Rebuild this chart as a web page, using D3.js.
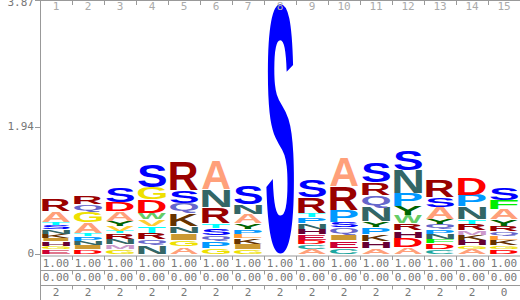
<!DOCTYPE html>
<html>
<head>
<meta charset="utf-8">
<script src="https://cdnjs.cloudflare.com/ajax/libs/d3/7.8.5/d3.min.js"></script>
<style>
  body { margin: 0; background: #fff; }
  svg { display: block; }
</style>
</head>
<body>
<svg id="logo"></svg>
<script>
// positions along the alignment
var positions = d3.range(1, 16);

// letter stacks per position, bottom -> top, [letter, bits]
var stacks = [
  [["E",.065],["G",.05],["H",.075],["I",.05],["K",.06],["N",.075],["S",.065],["T",.04],["A",.17],["R",.19]],
  [["D",.065],["I",.062],["N",.062],["P",.075],["T",.055],["A",.16],["G",.16],["Q",.115],["R",.125]],
  [["G",.072],["M",.076],["N",.076],["R",.087],["T",.04],["V",.076],["Y",.076],["A",.142],["D",.137],["S",.22]],
  [["N",.135],["Q",.087],["R",.098],["T",.098],["V",.11],["W",.098],["D",.2],["G",.19],["S",.34]],
  [["A",.109],["G",.093],["I",.109],["N",.109],["K",.19],["Q",.163],["S",.19],["R",.435]],
  [["G",.084],["P",.112],["Q",.084],["S",.112],["T",.075],["R",.25],["N",.27],["A",.44]],
  [["G",.076],["I",.076],["K",.091],["L",.061],["P",.076],["Y",.087],["A",.142],["N",.142],["S",.294]],
  [["S",3.82]],
  [["A",.076],["C",.066],["D",.072],["E",.081],["H",.087],["N",.087],["P",.091],["T",.061],["R",.235],["S",.26]],
  [["C",.093],["E",.109],["I",.093],["Q",.109],["S",.082],["P",.18],["R",.365],["A",.435]],
  [["A",.082],["H",.109],["K",.109],["P",.109],["Y",.082],["N",.217],["Q",.19],["R",.19],["S",.3]],
  [["A",.102],["D",.142],["H",.111],["R",.111],["W",.117],["Y",.137],["P",.203],["N",.355],["S",.3]],
  [["C",.076],["D",.091],["F",.061],["N",.076],["P",.076],["Q",.076],["Y",.076],["A",.178],["S",.152],["R",.254]],
  [["A",.076],["G",.05],["H",.076],["K",.076],["M",.076],["R",.102],["T",.072],["N",.194],["P",.178],["D",.254]],
  [["D",.075],["G",.053],["K",.085],["L",.064],["Q",.069],["R",.08],["Y",.096],["A",.16],["F",.139],["S",.187]]
];

// rows of numbers under the logo
var weightRow = ["1.00","1.00","1.00","1.00","1.00","1.00","1.00","1.00","1.00","1.00","1.00","1.00","1.00","1.00","1.00"];
var gapRow    = ["0.00","0.00","0.00","0.00","0.00","0.00","0.00","0.00","0.00","0.00","0.00","0.00","0.00","0.00","0.00"];
var countRow  = ["2","2","2","2","2","2","2","2","2","2","2","2","2","2","0"];

var yTicks = [0, 1.94, 3.87];

// residue colours
var colors = {
  A: "#FFA07A", R: "#990000", N: "#336666", D: "#FF0000", C: "#1AA6A0",
  Q: "#6666CC", E: "#CC0033", G: "#EEE000", H: "#660033", I: "#CC9933",
  L: "#FF9933", K: "#663300", M: "#CC99CC", F: "#00EE00", P: "#0099FF",
  S: "#0000FF", T: "#00FFFF", W: "#66CC66", Y: "#006400", V: "#FFCC33"
};

var config = {
  w: 520,
  h: 300,
  left: 40,
  base: 254,
  inset: 2
};

var svg = d3.select("#logo")
  .attr("width", config.w)
  .attr("height", config.h);

var x = d3.scaleBand()
  .domain(positions)
  .range([config.left, config.w]);

var y = d3.scaleLinear()
  .domain([0, 3.87])
  .range([config.base, 0]);

var bw = x.bandwidth();

// measure tight glyph boxes with a canvas
var FONT = "bold 100px 'Liberation Sans'";
var ctx = document.createElement("canvas").getContext("2d");
ctx.font = FONT;
var glyphs = {};
Object.keys(colors).forEach(function(c) {
  var m = ctx.measureText(c);
  glyphs[c] = {
    left: m.actualBoundingBoxLeft,
    w: m.actualBoundingBoxLeft + m.actualBoundingBoxRight,
    asc: m.actualBoundingBoxAscent,
    h: m.actualBoundingBoxAscent + m.actualBoundingBoxDescent
  };
});

// build letter boxes
var letters = [];
stacks.forEach(function(stack, i) {
  var acc = 0;
  stack.forEach(function(s) {
    letters.push({ pos: positions[i], ch: s[0], y0: acc, y1: acc + s[1] });
    acc += s[1];
  });
});

var g = svg.append("g").attr("class", "letters");

g.selectAll("text")
  .data(letters)
  .enter()
  .append("text")
    .attr("x", 0)
    .attr("y", 0)
    .style("font", FONT)
    .attr("fill", function(d) { return colors[d.ch]; })
    .attr("transform", function(d) {
      var gl = glyphs[d.ch];
      var bx = x(d.pos) + config.inset;
      var by = y(d.y1) + 0.3;
      var w = bw - 2 * config.inset;
      var h = Math.max(y(d.y0) - y(d.y1) - 0.6, 0.3);
      return "translate(" + bx + "," + by + ") scale(" + (w / gl.w) + "," + (h / gl.h) + ") translate(" + gl.left + "," + gl.asc + ")";
    })
    .text(function(d) { return d.ch; });

var axisColor = "#999";
var textColor = "#777";
var mono = "'DejaVu Sans Mono', monospace";

// top axis
svg.append("line")
  .attr("x1", config.left).attr("x2", config.w)
  .attr("y1", 0.5).attr("y2", 0.5)
  .attr("stroke", axisColor);

svg.append("g").selectAll("line")
  .data(positions)
  .enter()
  .append("line")
    .attr("x1", function(d) { return x(d) + bw + 0.5; })
    .attr("x2", function(d) { return x(d) + bw + 0.5; })
    .attr("y1", 0).attr("y2", 5)
    .attr("stroke", axisColor);

svg.append("g").selectAll("text")
  .data(positions)
  .enter()
  .append("text")
    .attr("x", function(d) { return x(d) + bw / 2; })
    .attr("y", 7)
    .attr("text-anchor", "middle")
    .attr("dominant-baseline", "middle")
    .style("font-family", mono)
    .style("font-size", "11px")
    .attr("fill", "#aaa")
    .text(function(d) { return d; });

// left axis
svg.append("line")
  .attr("x1", config.left + 0.5).attr("x2", config.left + 0.5)
  .attr("y1", 0).attr("y2", config.h)
  .attr("stroke", axisColor);

var yg = svg.append("g");
yg.selectAll("line")
  .data(yTicks)
  .enter()
  .append("line")
    .attr("x1", config.left - 5).attr("x2", config.left)
    .attr("y1", function(d) { return Math.round(y(d)) + 0.5; })
    .attr("y2", function(d) { return Math.round(y(d)) + 0.5; })
    .attr("stroke", axisColor);

yg.selectAll("text")
  .data(yTicks)
  .enter()
  .append("text")
    .attr("x", config.left - 6)
    .attr("y", function(d) { return Math.max(y(d), 3); })
    .attr("text-anchor", "end")
    .attr("dominant-baseline", "middle")
    .style("font-family", mono)
    .style("font-size", "11px")
    .attr("fill", textColor)
    .text(function(d) { return d === 0 ? "0" : d.toFixed(2); });

// table rows below the logo
var rows = [
  { vals: weightRow, top: 256 },
  { vals: gapRow, top: 270.5 },
  { vals: countRow, top: 285.5 }
];

rows.forEach(function(r) {
  svg.append("line")
    .attr("x1", config.left).attr("x2", config.w)
    .attr("y1", r.top).attr("y2", r.top)
    .attr("stroke", axisColor);

  svg.append("g").selectAll("line")
    .data(positions)
    .enter()
    .append("line")
      .attr("x1", function(d) { return x(d) + bw + 0.5; })
      .attr("x2", function(d) { return x(d) + bw + 0.5; })
      .attr("y1", r.top).attr("y2", r.top + 4)
      .attr("stroke", axisColor);

  svg.append("g").selectAll("text")
    .data(r.vals)
    .enter()
    .append("text")
      .attr("x", function(d, i) { return x(positions[i]) + bw / 2; })
      .attr("y", r.top + 7.5)
      .attr("text-anchor", "middle")
      .attr("dominant-baseline", "middle")
      .style("font-family", mono)
      .style("font-size", "11px")
      .attr("fill", textColor)
      .text(function(d) { return d; });
});
</script>
</body>
</html>
